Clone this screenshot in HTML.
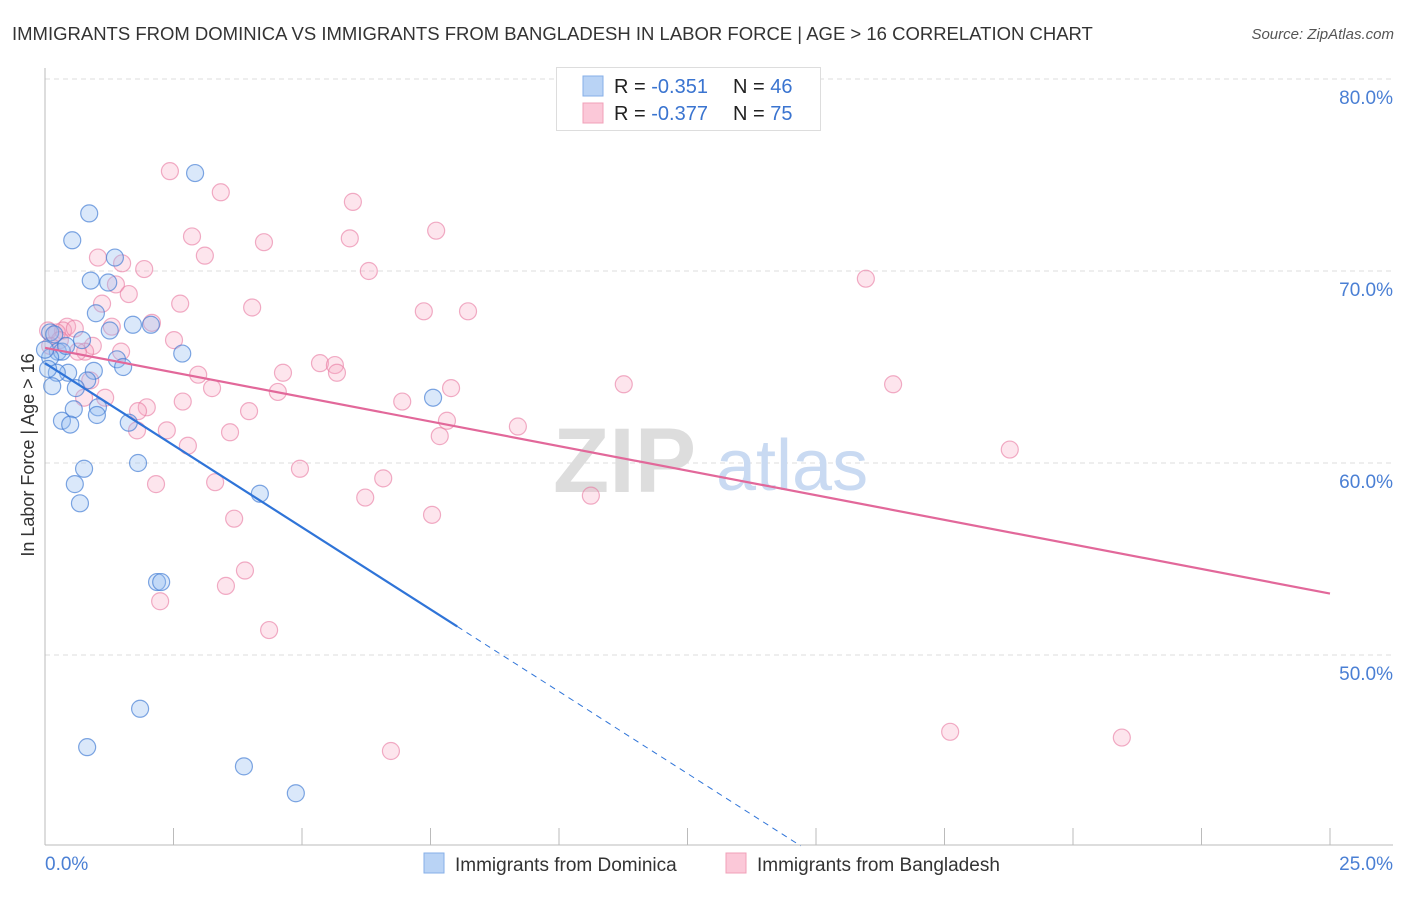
<!DOCTYPE html>
<html><head><meta charset="utf-8"><style>
body{margin:0;background:#fff;font-family:"Liberation Sans",sans-serif;}
svg text{font-family:"Liberation Sans",sans-serif;}
</style></head><body>
<svg width="1406" height="892" viewBox="0 0 1406 892" xmlns="http://www.w3.org/2000/svg">
<text x="12" y="40" font-size="18.5" fill="#333">IMMIGRANTS FROM DOMINICA VS IMMIGRANTS FROM BANGLADESH IN LABOR FORCE | AGE &gt; 16 CORRELATION CHART</text>
<text x="1394" y="39" font-size="15" fill="#555" font-style="italic" text-anchor="end">Source: ZipAtlas.com</text>
<g id="grid"></g>
<g>
<text x="553" y="492" font-size="92" fill="#ddd" font-family="Liberation Serif" font-weight="bold">ZIP</text>
<text x="716" y="490" font-size="72" fill="#c9daf2">atlas</text>
</g>
<g id="axes"></g>
<g id="pts"></g>
<g id="lines"></g>
<text x="34" y="455" font-size="18" fill="#333" text-anchor="middle" transform="rotate(-90 34 455)">In Labor Force | Age &gt; 16</text>
<g>
<rect x="556.5" y="67.5" width="264" height="63" fill="#fff" stroke="#ddd"/>
<rect x="583" y="76" width="20" height="20" fill="#b9d3f5" stroke="#86afe8"/>
<rect x="583" y="103" width="20" height="20" fill="#fbc8d8" stroke="#f0a0b8"/>
<text x="614" y="93" font-size="20" fill="#222">R = <tspan fill="#3a74d0">-0.351</tspan><tspan x="733">N = </tspan><tspan fill="#3a74d0">46</tspan></text>
<text x="614" y="120" font-size="20" fill="#222">R = <tspan fill="#3a74d0">-0.377</tspan><tspan x="733">N = </tspan><tspan fill="#3a74d0">75</tspan></text>
</g>
<g>
<rect x="424" y="853" width="20" height="20" fill="#b9d3f5" stroke="#86afe8"/>
<text x="455" y="871" font-size="19" fill="#333">Immigrants from Dominica</text>
<rect x="726" y="853" width="20" height="20" fill="#fbc8d8" stroke="#f0a0b8"/>
<text x="757" y="871" font-size="19" fill="#333">Immigrants from Bangladesh</text>
</g>
</svg>
<script>
const yTicks=[50,60,70,80];
const yTickLabels=["50.0%","60.0%","70.0%","80.0%"];
const xTickLabels=["0.0%","25.0%"];
const blueX=[2.92,0.86,0.53,1.36,0.89,1.23,0.99,1.71,2.06,1.26,0.72,0.10,0.25,0.33,2.67,1.40,1.52,0.45,0.95,0.23,0.14,0.82,0.60,7.55,1.03,0.56,1.01,0.33,0.49,1.63,1.81,0.76,0.58,4.18,0.68,2.18,2.26,1.85,0.82,3.87,4.88,0.10,0.18,0.00,0.06,0.41];
const blueY=[75.1,73.0,71.6,70.7,69.5,69.4,67.8,67.2,67.2,66.9,66.4,66.8,65.8,65.8,65.7,65.4,65.0,64.7,64.8,64.7,64.0,64.3,63.9,63.4,62.9,62.8,62.5,62.2,62.0,62.1,60.0,59.7,58.9,58.4,57.9,53.8,53.8,47.2,45.2,44.2,42.8,65.5,66.7,65.9,64.9,66.1];
const pinkX=[2.43,3.42,5.99,7.61,2.86,5.93,4.26,3.11,1.03,1.50,1.93,6.30,15.97,1.38,1.63,2.63,1.11,4.03,7.37,8.23,2.08,1.30,0.43,0.06,0.35,0.58,0.23,2.51,0.93,1.48,0.78,5.35,5.64,5.68,2.98,4.63,0.88,11.26,16.50,7.90,3.25,4.53,1.17,0.76,2.68,6.95,1.98,3.97,1.81,7.82,9.20,2.37,3.60,7.68,1.79,2.78,18.77,4.96,6.58,3.31,2.16,6.23,10.62,7.53,3.68,3.89,3.52,2.24,4.36,17.61,6.73,20.95,0.29,0.10,0.64];
const pinkY=[75.2,74.1,73.6,72.1,71.8,71.7,71.5,70.8,70.7,70.4,70.1,70.0,69.6,69.3,68.8,68.3,68.3,68.1,67.9,67.9,67.3,67.1,67.1,66.9,66.9,67.0,66.8,66.4,66.1,65.8,65.8,65.2,65.1,64.7,64.6,64.7,64.3,64.1,64.1,63.9,63.9,63.7,63.4,63.4,63.2,63.2,62.9,62.7,62.7,62.2,61.9,61.7,61.6,61.4,61.7,60.9,60.7,59.7,59.2,59.0,58.9,58.2,58.3,57.3,57.1,54.4,53.6,52.8,51.3,46.0,45.0,45.7,66.4,66.1,65.8];
const blueTrend=[65.2,-1.71,8.02,14.7]; // intercept, slope, solid end x, dashed end x
const pinkTrend=[66.0,-0.512,25];
const X=v=>45+v/25*1285, Y=v=>79+(80-v)*19.2;
const NS="http://www.w3.org/2000/svg";
function mk(t,a,p){const e=document.createElementNS(NS,t);for(const k in a)e.setAttribute(k,a[k]);p.appendChild(e);return e;}
const grid=document.getElementById('grid'),axes=document.getElementById('axes'),pts=document.getElementById('pts'),lines=document.getElementById('lines');
yTicks.forEach((t,i)=>{
 const l=mk('line',{x1:45,x2:1393,y1:Y(t),y2:Y(t),stroke:'#ddd','stroke-dasharray':'5,4'},grid);
 
 
 const tx=mk('text',{x:1393,y:Y(t)+25,'font-size':19,fill:'#4a7fd4','text-anchor':'end'},grid);
 tx.textContent=yTickLabels[i];
 
 
});
mk('line',{x1:45,x2:45,y1:68,y2:845,stroke:'#bbb'},axes);
mk('line',{x1:45,x2:1393,y1:845,y2:845,stroke:'#bbb'},axes);
for(let i=0;i<=10;i++){const x=X(i*2.5);const t=mk('line',{x1:x,x2:x,y1:828,y2:845,stroke:'#bbb'},axes);
 
 }
const xl0=mk('text',{x:45,y:870,'font-size':19,fill:'#4a7fd4'},axes);xl0.textContent=xTickLabels[0];


const xl1=mk('text',{x:1393,y:870,'font-size':19,fill:'#4a7fd4','text-anchor':'end'},axes);xl1.textContent=xTickLabels[1];


pinkX.forEach((v,i)=>{const c=mk('circle',{cx:X(v),cy:Y(pinkY[i]),r:8.5,fill:'rgba(248,170,195,0.3)',stroke:'rgba(232,120,160,0.6)','stroke-width':1.2},pts);
 
 });
blueX.forEach((v,i)=>{const c=mk('circle',{cx:X(v),cy:Y(blueY[i]),r:8.5,fill:'rgba(150,190,240,0.35)',stroke:'rgba(60,120,210,0.65)','stroke-width':1.2},pts);
 
 });
const bt=v=>blueTrend[0]+blueTrend[1]*v, pt=v=>pinkTrend[0]+pinkTrend[1]*v;
const l1=mk('line',{x1:X(0),y1:Y(bt(0)),x2:X(blueTrend[2]),y2:Y(bt(blueTrend[2])),stroke:'#2f74d8','stroke-width':2.2},lines);


const l2=mk('line',{x1:X(blueTrend[2]),y1:Y(bt(blueTrend[2])),x2:X(blueTrend[3]),y2:Y(bt(blueTrend[3])),stroke:'#2f74d8','stroke-width':1,'stroke-dasharray':'6,5'},lines);


const l3=mk('line',{x1:X(0),y1:Y(pt(0)),x2:X(pinkTrend[2]),y2:Y(pt(pinkTrend[2])),stroke:'#e2689a','stroke-width':2.2},lines);


</script>
</body></html>
